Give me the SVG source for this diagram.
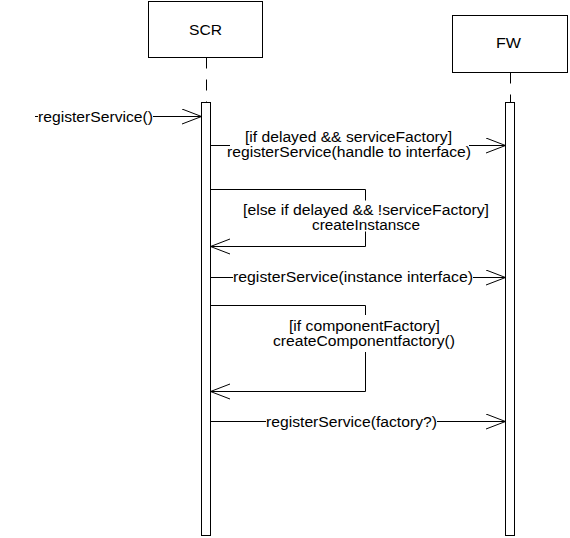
<svg xmlns="http://www.w3.org/2000/svg" width="570" height="538" viewBox="0 0 570 538">
<style>
.box{fill:#fff;stroke:#000;stroke-width:1}
.life{stroke:#000;stroke-width:1;stroke-dasharray:11 11;fill:none}
.bar{fill:#fff;stroke:#000;stroke-width:1}
.msg{fill:none;stroke:#000;stroke-width:1;marker-end:url(#open)}
.bg{fill:#fff;stroke:none}
text{font-family:"Liberation Sans",Arial,sans-serif;font-size:14px;fill:#000}
.c{text-anchor:middle}
</style>
<defs>
<marker id="open" viewBox="0 0 21 17" refX="20" refY="8" markerWidth="21" markerHeight="17" markerUnits="userSpaceOnUse" orient="auto">
<path d="M0.5,0.5 L20,8 L0.5,15.5" fill="none" stroke="#000" stroke-width="1"/>
</marker>
</defs>
<g id="SCR">
<rect class="box" x="148.5" y="1.5" width="114" height="56"/>
<text class="c" x="205.5" y="35" textLength="33" lengthAdjust="spacingAndGlyphs">SCR</text>
<line class="life" x1="206.5" y1="57.5" x2="206.5" y2="102.5"/>
<rect class="bar" x="201.5" y="102.5" width="9" height="433"/>
</g>
<g id="FW">
<rect class="box" x="452.5" y="15.5" width="115" height="57"/>
<text class="c" x="508.5" y="48" textLength="25" lengthAdjust="spacingAndGlyphs">FW</text>
<line class="life" x1="510.5" y1="72.5" x2="510.5" y2="102.5"/>
<rect class="bar" x="505.5" y="102.5" width="9" height="433"/>
</g>
<g id="connectors">
<line class="msg" x1="35" y1="116.5" x2="201.5" y2="116.5"/>
<rect class="bg" x="38" y="109" width="115" height="16"/>
<text x="38" y="122" textLength="115" lengthAdjust="spacingAndGlyphs">registerService()</text>

<line class="msg" x1="210.5" y1="145.5" x2="505.5" y2="145.5"/>
<rect class="bg" x="230" y="131" width="239" height="30"/>
<text class="c" x="348.5" y="142" textLength="207" lengthAdjust="spacingAndGlyphs">[if delayed &amp;&amp; serviceFactory]</text>
<text class="c" x="349" y="157" textLength="244" lengthAdjust="spacingAndGlyphs">registerService(handle to interface)</text>

<polyline class="msg" points="210.5,189.5 365.5,189.5 365.5,246.5 210.5,246.5"/>
<rect class="bg" x="243" y="200.5" width="247" height="31"/>
<text class="c" x="366" y="215" textLength="246" lengthAdjust="spacingAndGlyphs">[else if delayed &amp;&amp; !serviceFactory]</text>
<text class="c" x="366" y="230" textLength="108" lengthAdjust="spacingAndGlyphs">createInstansce</text>

<line class="msg" x1="210.5" y1="277.5" x2="505.5" y2="277.5"/>
<rect class="bg" x="233" y="268" width="240" height="18"/>
<text class="c" x="353" y="282" textLength="240" lengthAdjust="spacingAndGlyphs">registerService(instance interface)</text>

<polyline class="msg" points="210.5,305.5 365.5,305.5 365.5,391.5 210.5,391.5"/>
<rect class="bg" x="272" y="315" width="184" height="37"/>
<text class="c" x="364.5" y="331" textLength="151" lengthAdjust="spacingAndGlyphs">[if componentFactory]</text>
<text class="c" x="364" y="346" textLength="182" lengthAdjust="spacingAndGlyphs">createComponentfactory()</text>

<line class="msg" x1="210.5" y1="421.5" x2="505.5" y2="421.5"/>
<rect class="bg" x="266" y="412" width="171" height="18"/>
<text class="c" x="351.5" y="427" textLength="171" lengthAdjust="spacingAndGlyphs">registerService(factory?)</text>
</g>
</svg>
